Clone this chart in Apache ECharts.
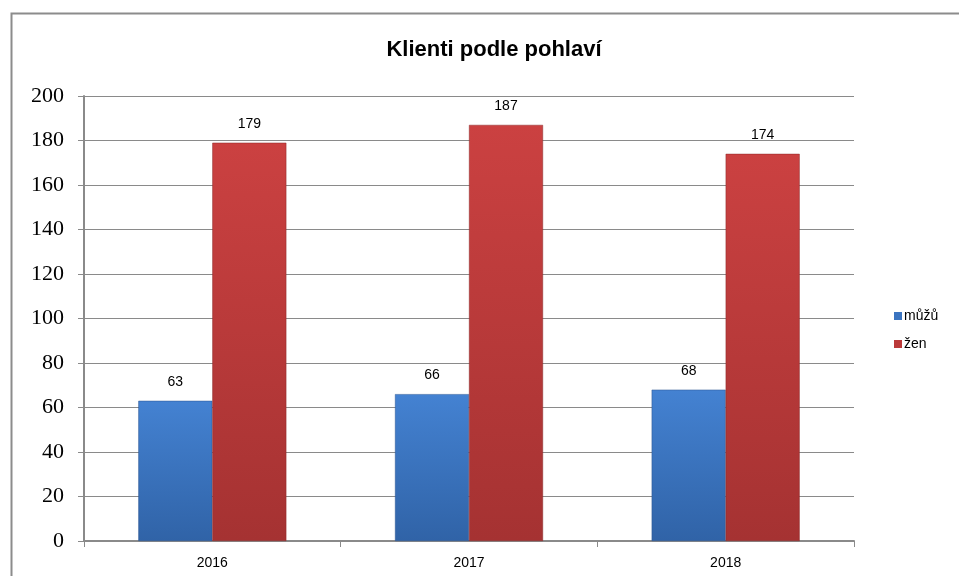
<!DOCTYPE html>
<html>
<head>
<meta charset="utf-8">
<script src="https://cdn.jsdelivr.net/npm/echarts@6/dist/echarts.min.js"></script>
<style>
  html, body { margin: 0; padding: 0; background: #fff; }
  #chart { width: 959px; height: 576px; }
</style>
</head>
<body>
<div id="chart"></div>
<script>
  // data
  var years = ["2016", "2017", "2018"];
  var muzu = [63, 66, 68];
  var zen = [179, 187, 174];
  var yTicks = { min: 0, max: 200, interval: 20 };

  var blueFill = new echarts.graphic.LinearGradient(0, 0, 0, 1, [
    { offset: 0, color: "#4482d2" },
    { offset: 1, color: "#3063a7" }
  ]);
  var redFill = new echarts.graphic.LinearGradient(0, 0, 0, 1, [
    { offset: 0, color: "#cb4141" },
    { offset: 1, color: "#a53232" }
  ]);

  var labelStyle = {
    show: true, position: "top", distance: 12,
    color: "#000", fontSize: 14, fontFamily: "Liberation Sans, Arial, sans-serif"
  };

  var chart = echarts.init(document.getElementById("chart"), null, { renderer: "canvas" });
  chart.setOption({
    animation: false,
    title: {
      text: "Klienti podle pohlaví",
      left: 489, top: 34, textAlign: "center",
      textStyle: { fontFamily: "Liberation Sans, Arial, sans-serif", fontSize: 22, fontWeight: "bold", color: "#000" }
    },
    graphic: [{
      type: "rect", left: 9, top: 11, silent: true,
      shape: { width: 960, height: 580 },
      style: { fill: "none", stroke: "#8c8c8c", lineWidth: 2 }
    }],
    legend: {
      orient: "vertical", left: 889, top: 304,
      itemWidth: 8, itemHeight: 8, itemGap: 14,
      icon: "rect",
      itemStyle: { borderWidth: 0 },
      textStyle: { fontFamily: "Liberation Sans, Arial, sans-serif", fontSize: 14, color: "#000", padding: [0, 0, 0, -3] },
      data: [
        { name: "můžů", itemStyle: { color: "#3b74c0", borderWidth: 0 } },
        { name: "žen", itemStyle: { color: "#bb3a3a", borderWidth: 0 } }
      ]
    },
    grid: { left: 84, right: 105, top: 96, bottom: 35 },
    xAxis: {
      type: "category",
      data: years,
      axisLine: { lineStyle: { color: "#8a8a8a", width: 2 } },
      axisTick: { show: true, length: 6, alignWithLabel: false, lineStyle: { color: "#8a8a8a", width: 1 } },
      axisLabel: { color: "#000", fontSize: 14, margin: 15, fontFamily: "Liberation Sans, Arial, sans-serif" }
    },
    yAxis: {
      type: "value",
      min: yTicks.min, max: yTicks.max, interval: yTicks.interval,
      axisLine: { show: true, lineStyle: { color: "#8a8a8a", width: 2 } },
      axisTick: { show: true, length: 6, lineStyle: { color: "#8a8a8a", width: 1 } },
      splitLine: { lineStyle: { color: "#8a8a8a", width: 1 } },
      axisLabel: { color: "#000", fontSize: 22, margin: 20, fontFamily: "Liberation Serif, Times New Roman, serif" }
    },
    series: [
      {
        name: "můžů", type: "bar", data: muzu,
        barWidth: 74, barGap: "0%",
        itemStyle: { color: blueFill, borderColor: "#2a5590", borderWidth: 0.5 },
        label: labelStyle
      },
      {
        name: "žen", type: "bar", data: zen,
        barWidth: 74,
        itemStyle: { color: redFill, borderColor: "#8a2828", borderWidth: 0.5 },
        label: labelStyle
      }
    ]
  });
</script>
</body>
</html>
